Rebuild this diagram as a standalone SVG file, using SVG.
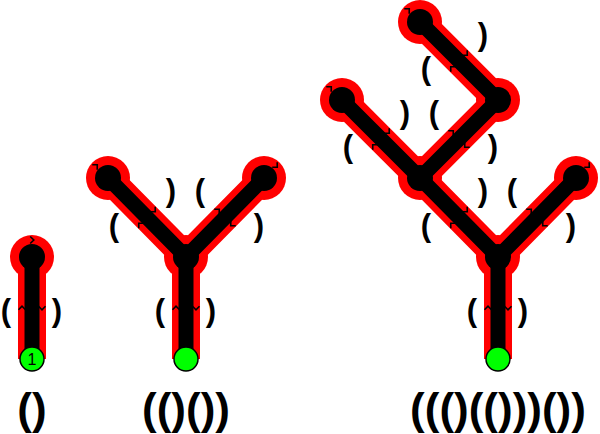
<svg xmlns="http://www.w3.org/2000/svg" xmlns:xlink="http://www.w3.org/1999/xlink" width="600" height="434" viewBox="0 0 600 434">
<style>
.halo{stroke:#ff0000;stroke-width:28;fill:none}
.hc{fill:#ff0000}
.edge{stroke:#000;stroke-width:15;fill:none}
.node{fill:#000}
.root{fill:#00ff00;stroke:#000;stroke-width:1.5}
.lbl{font-family:"Liberation Sans",Arial,sans-serif;font-size:31px;font-weight:bold;text-anchor:middle;fill:#000}
.big{font-family:"Liberation Sans",Arial,sans-serif;font-size:44px;font-weight:bold;text-anchor:middle;fill:#000}
.num{font-family:"Liberation Sans",Arial,sans-serif;font-size:16px;text-anchor:middle;fill:#000}
</style>
<defs>
<path id="chev" d="M-3.5,1.8 L0,-1.8 L3.5,1.8" fill="none" stroke="#000" stroke-width="1.6"/>
</defs>
<g id="halos">
<path class="halo" d="M32,359V257 M186,359V257 L108,178 M186,257 L264,178 M498,359V257 L420,178 L342,100 M498,257 L576,178 M420,178 L498,100 L420,22"/>
<circle class="hc" cx="32" cy="257" r="22"/>
<circle class="hc" cx="186" cy="257" r="22"/>
<circle class="hc" cx="108" cy="178" r="22"/>
<circle class="hc" cx="264" cy="178" r="22"/>
<circle class="hc" cx="498" cy="257" r="22"/>
<circle class="hc" cx="420" cy="178" r="22"/>
<circle class="hc" cx="576" cy="178" r="22"/>
<circle class="hc" cx="342" cy="100" r="22"/>
<circle class="hc" cx="498" cy="100" r="22"/>
<circle class="hc" cx="420" cy="22" r="22"/>
</g>
<g id="connectors">
<path class="edge" d="M32,359V257 M186,359V257 L108,178 M186,257 L264,178 M498,359V257 L420,178 L342,100 M498,257 L576,178 M420,178 L498,100 L420,22"/>
<use xlink:href="#chev" transform="translate(22,308)"/>
<use xlink:href="#chev" transform="translate(42,308) rotate(180)"/>
<use xlink:href="#chev" transform="translate(176,308)"/>
<use xlink:href="#chev" transform="translate(196,308) rotate(180)"/>
<use xlink:href="#chev" transform="translate(488,308)"/>
<use xlink:href="#chev" transform="translate(508,308) rotate(180)"/>
<use xlink:href="#chev" transform="translate(140,224.5) rotate(-45)"/>
<use xlink:href="#chev" transform="translate(154,210.5) rotate(135)"/>
<use xlink:href="#chev" transform="translate(218,210.5) rotate(45)"/>
<use xlink:href="#chev" transform="translate(232,224.5) rotate(225)"/>
<use xlink:href="#chev" transform="translate(452,224.5) rotate(-45)"/>
<use xlink:href="#chev" transform="translate(466,210.5) rotate(135)"/>
<use xlink:href="#chev" transform="translate(530,210.5) rotate(45)"/>
<use xlink:href="#chev" transform="translate(544,224.5) rotate(225)"/>
<use xlink:href="#chev" transform="translate(374,146) rotate(-45)"/>
<use xlink:href="#chev" transform="translate(388,132) rotate(135)"/>
<use xlink:href="#chev" transform="translate(452,132) rotate(45)"/>
<use xlink:href="#chev" transform="translate(466,146) rotate(225)"/>
<use xlink:href="#chev" transform="translate(452,68) rotate(-45)"/>
<use xlink:href="#chev" transform="translate(466,54) rotate(135)"/>
</g>
<g id="edge-labels">
<text class="lbl" x="6" y="321">(</text>
<text class="lbl" x="57" y="321">)</text>
<text class="lbl" x="160" y="321">(</text>
<text class="lbl" x="211" y="321">)</text>
<text class="lbl" x="114" y="236">(</text>
<text class="lbl" x="171" y="201">)</text>
<text class="lbl" x="200" y="201">(</text>
<text class="lbl" x="259" y="236">)</text>
<text class="lbl" x="472" y="321">(</text>
<text class="lbl" x="523" y="321">)</text>
<text class="lbl" x="426" y="236">(</text>
<text class="lbl" x="483" y="201">)</text>
<text class="lbl" x="512" y="201">(</text>
<text class="lbl" x="571" y="236">)</text>
<text class="lbl" x="348" y="157">(</text>
<text class="lbl" x="405" y="123">)</text>
<text class="lbl" x="434" y="123">(</text>
<text class="lbl" x="493" y="157">)</text>
<text class="lbl" x="426" y="79">(</text>
<text class="lbl" x="483" y="45">)</text>
</g>
<g id="t1-leaf"><circle class="node" cx="32" cy="257" r="13"/><use xlink:href="#chev" transform="translate(32,240) rotate(90)"/></g>
<g id="t1-root"><circle class="root" cx="32" cy="359" r="12"/><text class="num" x="32" y="365">1</text></g>
<g id="t2-n"><circle class="node" cx="186" cy="257" r="13"/></g>
<g id="t2-leafL"><circle class="node" cx="108" cy="178" r="13"/><use xlink:href="#chev" transform="translate(96,166) rotate(45)"/></g>
<g id="t2-leafR"><circle class="node" cx="264" cy="178" r="13"/><use xlink:href="#chev" transform="translate(276,166) rotate(135)"/></g>
<g id="t2-root"><circle class="root" cx="186" cy="359" r="12"/></g>
<g id="t3-A"><circle class="node" cx="498" cy="257" r="13"/></g>
<g id="t3-B"><circle class="node" cx="420" cy="178" r="13"/></g>
<g id="t3-C"><circle class="node" cx="498" cy="100" r="13"/></g>
<g id="t3-leafR"><circle class="node" cx="576" cy="178" r="13"/><use xlink:href="#chev" transform="translate(588,166) rotate(135)"/></g>
<g id="t3-leafBL"><circle class="node" cx="342" cy="100" r="13"/><use xlink:href="#chev" transform="translate(330,88) rotate(45)"/></g>
<g id="t3-leafC"><circle class="node" cx="420" cy="22" r="13"/><use xlink:href="#chev" transform="translate(408,10) rotate(45)"/></g>
<g id="t3-root"><circle class="root" cx="498" cy="359" r="12"/></g>
<g id="bracket-labels">
<text class="big" x="32" y="424">()</text>
<text class="big" x="186" y="424">(()())</text>
<text class="big" x="498" y="424">((()(()))())</text>
</g>
</svg>
